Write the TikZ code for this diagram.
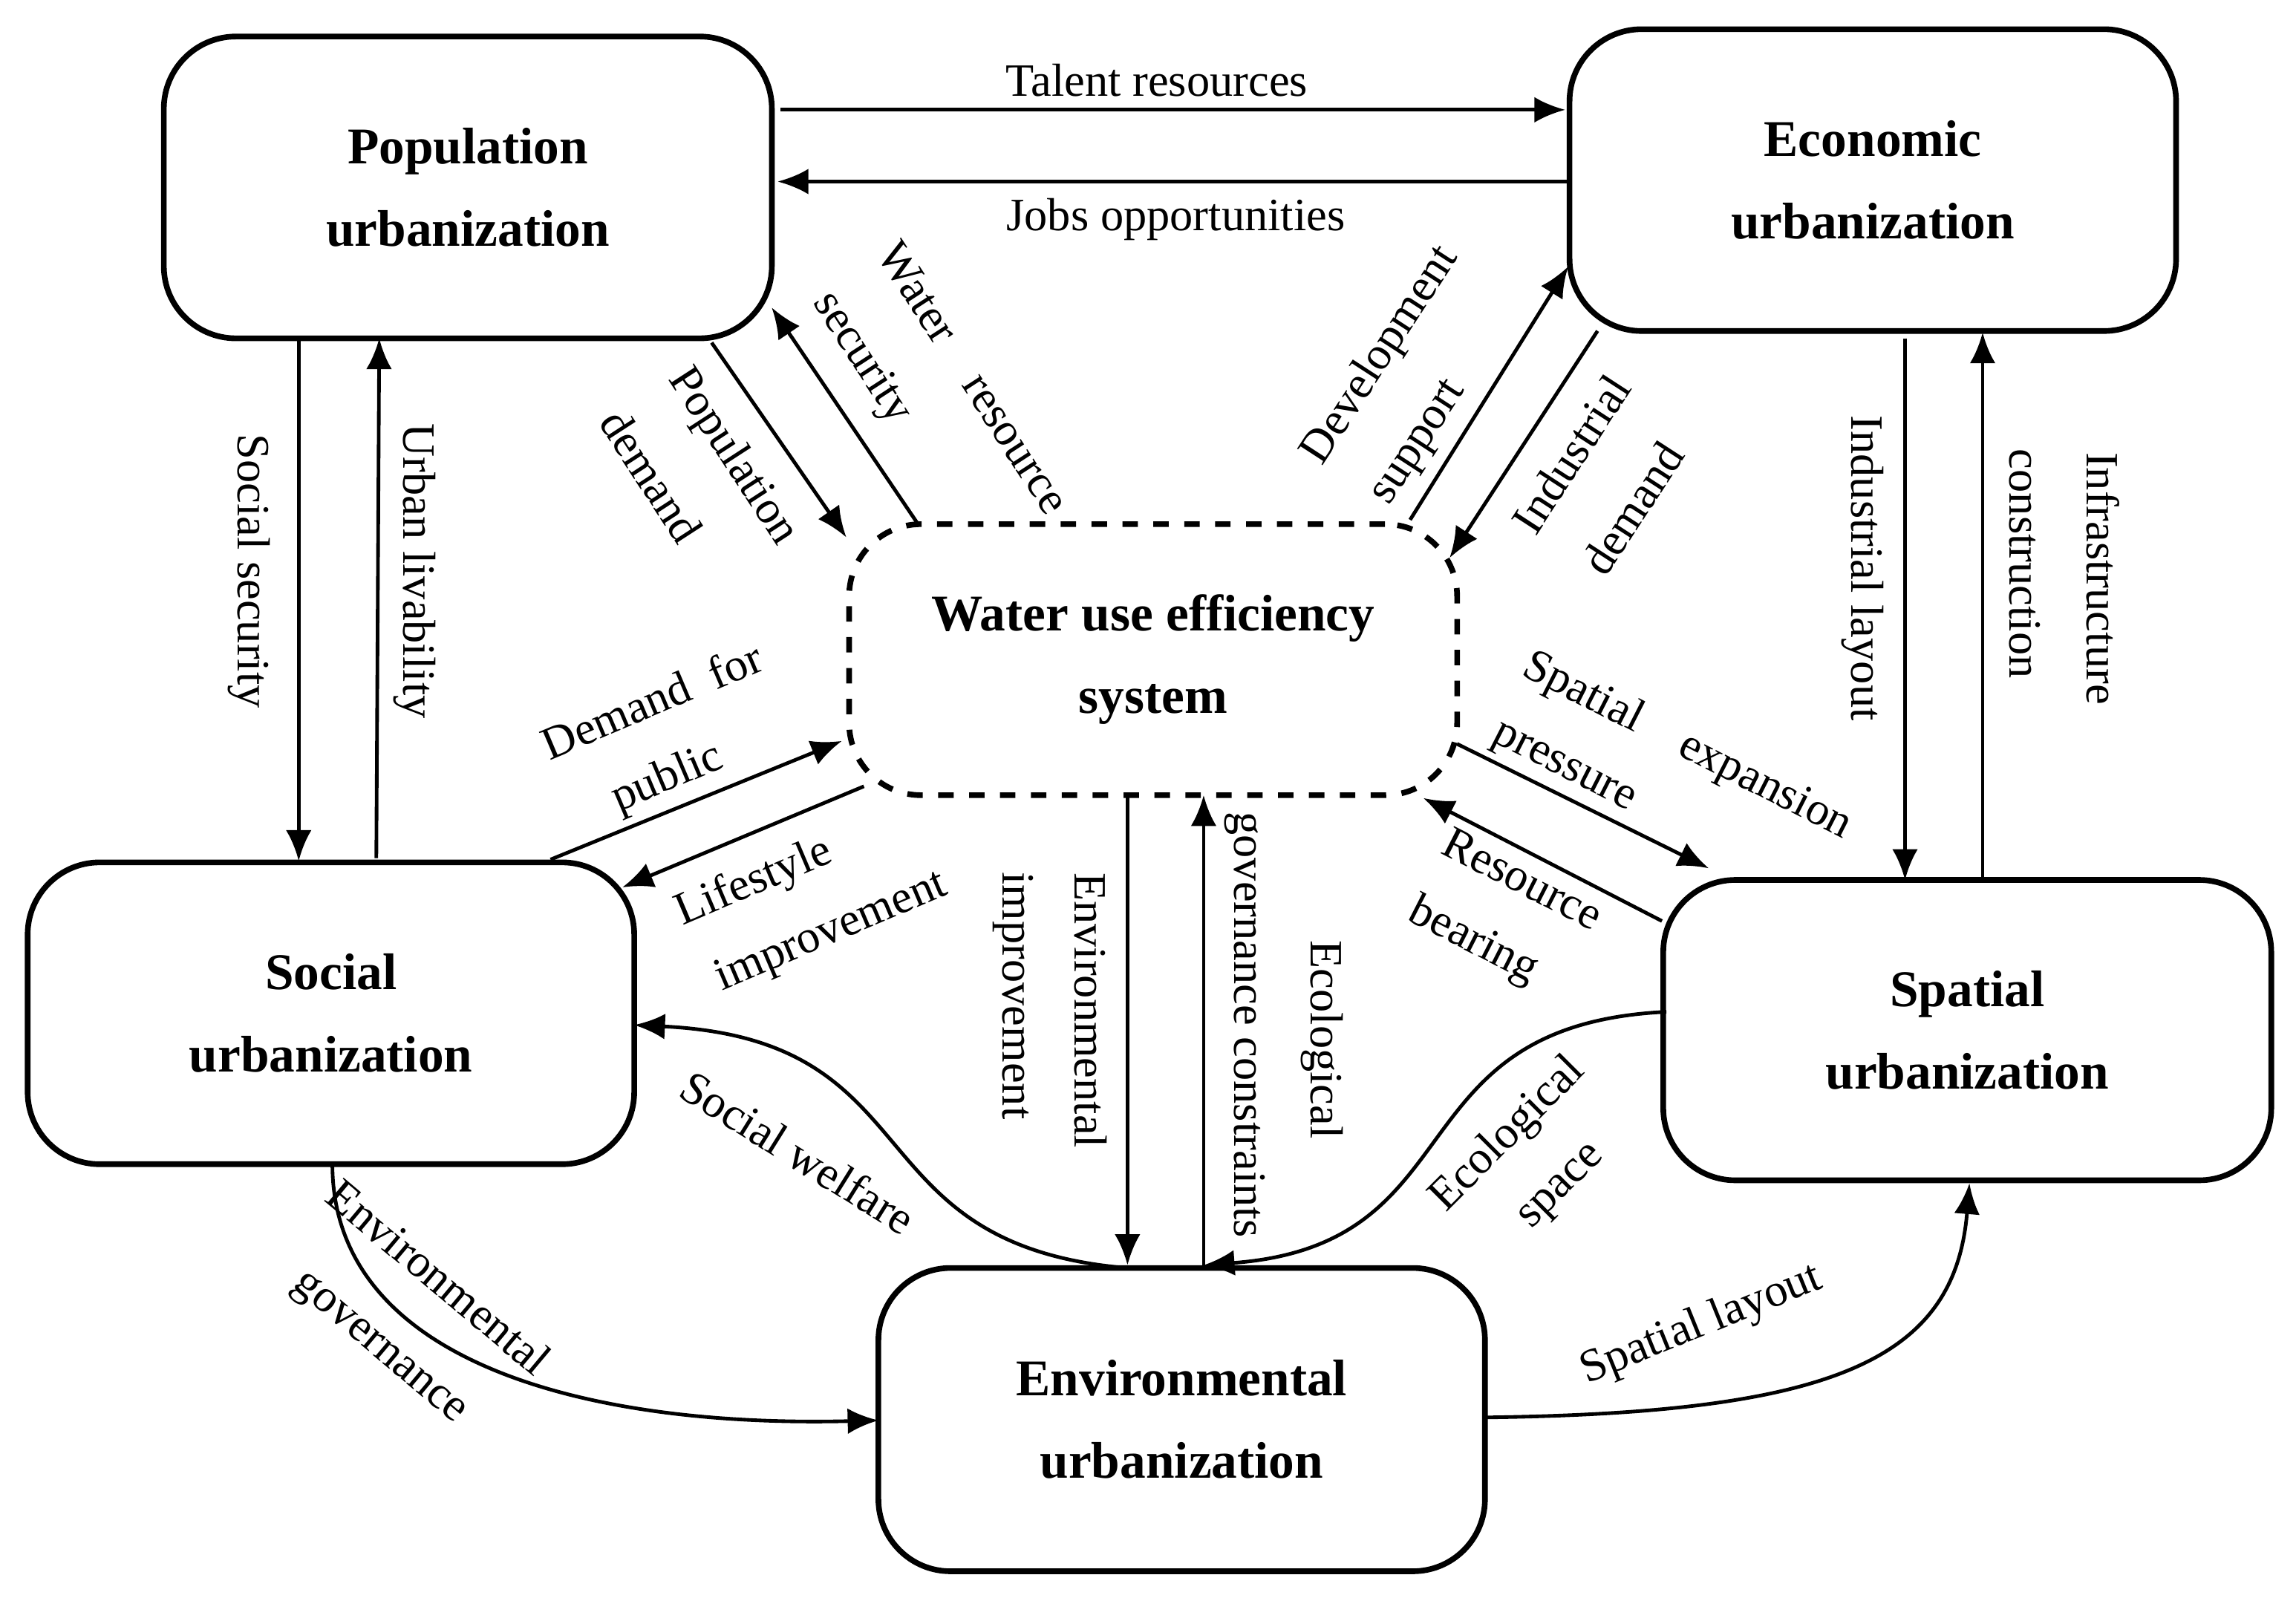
\documentclass[tikz,border=0pt]{standalone}
\usepackage{fontspec}
\setmainfont{Liberation Serif}
\usetikzlibrary{arrows.meta}
\begin{document}
\begin{tikzpicture}[x=0.01cm,y=-0.01cm,
 box/.style={draw,line width=1.1pt,rounded corners=14pt,font=\fontsize{10}{13}\selectfont\bfseries,align=center,inner sep=0},
 ar/.style={-{Latex[length=6pt,width=5pt]},line width=0.7pt},
 lb/.style={font=\fontsize{9}{11}\selectfont,inner sep=0}]
\useasboundingbox (0,0) rectangle (1568,1091);
\node[box,minimum width=4.15cm,minimum height=2.06cm] (pop) at (319.5,128) {Population\\[3pt]urbanization};
\node[box,minimum width=4.14cm,minimum height=2.06cm] (eco) at (1279,123) {Economic\\[3pt]urbanization};
\node[box,minimum width=4.14cm,minimum height=2.06cm] (soc) at (226,692) {Social\\[3pt]urbanization};
\node[box,minimum width=4.15cm,minimum height=2.05cm] (spa) at (1343.5,703.5) {Spatial\\[3pt]urbanization};
\node[box,minimum width=4.14cm,minimum height=2.07cm] (env) at (807,969.5) {Environmental\\[3pt]urbanization};
\node[box,dashed,minimum width=4.15cm,minimum height=1.85cm] (wat) at (787.5,450.5) {Water use efficiency\\[3pt]system};
\coordinate (a1) at (533,75); \coordinate (a2) at (1069,75);
\draw[ar] (a1) -- (a2);
\node[lb] (t1) at (790,55) {Talent resources};
\coordinate (b1) at (1072,124); \coordinate (b2) at (531,124);
\draw[ar] (b1) -- (b2);
\node[lb] (t2) at (803,150) {Jobs opportunities};
\coordinate (c1) at (204,231); \coordinate (c2) at (204,588);
\draw[ar] (c1) -- (c2);
\node[lb,rotate=-90] (t3) at (170,390) {Social security};
\coordinate (d1) at (257,586); \coordinate (d2) at (259,231);
\draw[ar] (d1) -- (d2);
\node[lb,rotate=-90] (t4) at (283,390) {Urban livability};
\coordinate (e1) at (486,234); \coordinate (e2) at (578,367);
\draw[ar] (e1) -- (e2);
\node[lb,rotate=-57] (t5) at (500,312) {Population};
\node[lb,rotate=-57] (t6) at (445,325) {demand};
\coordinate (f1) at (627,358); \coordinate (f2) at (527,210);
\draw[ar] (f1) -- (f2);
\node[lb,rotate=-57] (t7) at (665,258) {Water\quad resource};
\node[lb,rotate=-57] (t8) at (588,245) {security};
\coordinate (g1) at (963,355); \coordinate (g2) at (1071,182);
\draw[ar] (g1) -- (g2);
\node[lb,rotate=57] (t9) at (943,243) {Development};
\node[lb,rotate=57] (t10) at (970,303) {support};
\coordinate (h1) at (1091,226); \coordinate (h2) at (990,381);
\draw[ar] (h1) -- (h2);
\node[lb,rotate=57] (t11) at (1073,310) {Industrial};
\node[lb,rotate=57] (t12) at (1115,347) {demand};
\coordinate (i1) at (1301,231); \coordinate (i2) at (1301,601);
\draw[ar] (i1) -- (i2);
\node[lb,rotate=-90] (t13) at (1272,388) {Industrial layout};
\coordinate (j1) at (1354,601); \coordinate (j2) at (1354,227);
\draw[ar] (j1) -- (j2);
\node[lb,rotate=-90] (t14) at (1436,395) {Infrastructure};
\node[lb,rotate=-90] (t15) at (1383,385) {construction};
\coordinate (k1) at (376,587); \coordinate (k2) at (575,506);
\draw[ar] (k1) -- (k2);
\node[lb,rotate=23] (t16) at (445,478) {Demand\ \ for};
\node[lb,rotate=23] (t17) at (456,532) {public};
\coordinate (l1) at (590,537); \coordinate (l2) at (425,606);
\draw[ar] (l1) -- (l2);
\node[lb,rotate=23] (t18) at (515,603) {Lifestyle};
\node[lb,rotate=23] (t19) at (568,637) {improvement};
\coordinate (m1) at (770,543); \coordinate (m2) at (770,864);
\draw[ar] (m1) -- (m2);
\node[lb,rotate=-90] (t20) at (745,690) {Environmental};
\node[lb,rotate=-90] (t21) at (692,680) {improvement};
\coordinate (n1) at (822,864); \coordinate (n2) at (822,543);
\draw[ar] (n1) -- (n2);
\node[lb,rotate=-90] (t22) at (903,710) {Ecological};
\node[lb,rotate=-90] (t23) at (850,700) {governance constraints};
\coordinate (o1) at (995,508); \coordinate (o2) at (1167,593);
\draw[ar] (o1) -- (o2);
\node[lb,rotate=-27] (t24) at (1152,510) {Spatial\quad expansion};
\node[lb,rotate=-27] (t25) at (1067,526) {pressure};
\coordinate (p1) at (1135,629); \coordinate (p2) at (972,545);
\draw[ar] (p1) -- (p2);
\node[lb,rotate=-27] (t26) at (1040,600) {Resource};
\node[lb,rotate=-27] (t27) at (1006,643) {bearing};
\coordinate (q1) at (1138,691); \coordinate (q2) at (822,864);
\draw[ar] (q1) .. controls (950,700) and (1010,850) .. (q2);
\node[lb,rotate=45] (t28) at (1030,775) {Ecological};
\node[lb,rotate=45] (t29) at (1068,812) {space};
\coordinate (r1) at (770,866); \coordinate (r2) at (433,700);
\draw[ar] (r1) .. controls (580,850) and (640,710) .. (r2);
\node[lb,rotate=-32] (t30) at (545,787) {Social welfare};
\coordinate (s1) at (227,795); \coordinate (s2) at (600,970);
\draw[ar] (s1) .. controls (227,930) and (400,975) .. (s2);
\node[lb,rotate=-40] (t31) at (300,872) {Environmental};
\node[lb,rotate=-40] (t32) at (258,922) {governance};
\coordinate (u1) at (1014,968); \coordinate (u2) at (1345,808);
\draw[ar] (u1) .. controls (1250,965) and (1335,930) .. (u2);
\node[lb,rotate=22] (t33) at (1162,905) {Spatial layout};
\end{tikzpicture}
\end{document}
